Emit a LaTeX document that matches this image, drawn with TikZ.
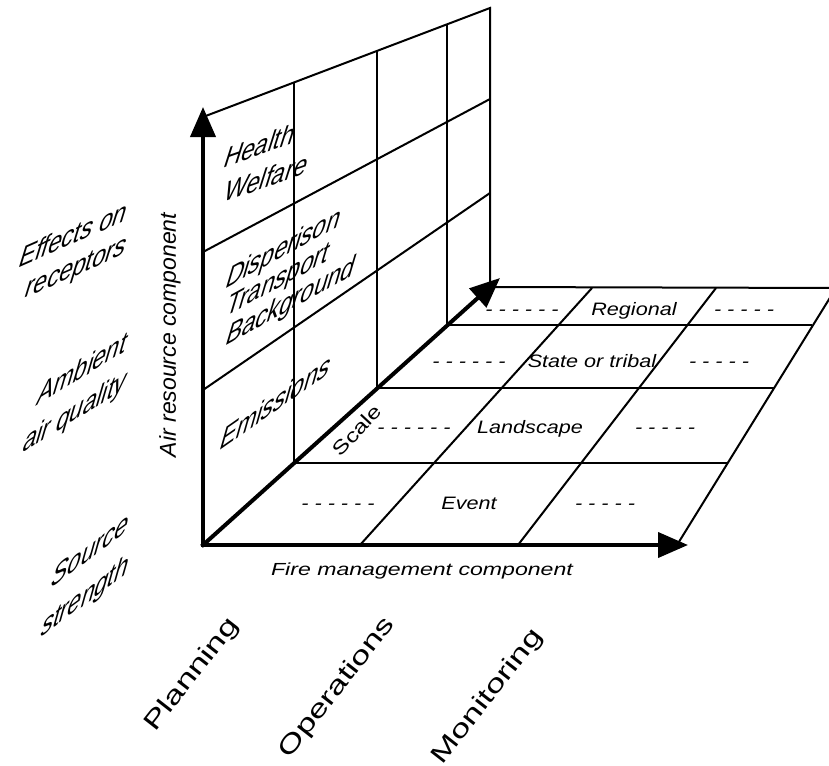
\documentclass[tikz,border=0pt]{standalone}
\usepackage{fontspec}
\setmainfont{Liberation Sans}
\newfontfamily\oblq[FakeSlant=0.4]{Liberation Sans}
\usetikzlibrary{arrows.meta}
\tikzset{axis/.style={line width=4pt, line cap=rect, -{Triangle[length=30pt,width=25pt]}}}
\tikzset{grid/.style={line width=2pt}}
\tikzset{wall/.style 2 args={inner sep=0pt, align=left, anchor=west, yslant=#1, yscale=1.12, font=\oblq\fontsize{24}{#2}\selectfont}}
\tikzset{side/.style 2 args={inner sep=0pt, align=right, anchor=east, yslant=#1, yscale=1.12, font=\oblq\fontsize{24}{#2}\selectfont}}
\tikzset{floor/.style={inner sep=0pt, anchor=base, xscale=1.2, font=\itshape\fontsize{18}{20}\selectfont}}
\tikzset{phase/.style={inner sep=0pt, rotate=52, xscale=1.4, font=\fontsize{25}{28}\selectfont}}

\begin{document}
\begin{tikzpicture}[x=1pt, y=-1pt]
        \useasboundingbox (0,0) rectangle (829,765);
        \coordinate (orig) at (203,545);
        \coordinate (ytip) at (203,107);
        \coordinate (xtip) at (688,545);
        \coordinate (ztip) at (500,278);
        \coordinate (wtl) at (203,117);
        \coordinate (wtr) at (490,8);
        \coordinate (wbr) at (490,287);

        \draw[grid] (wtl) -- (wtr) -- (wbr);
        \draw[grid] (203,252) -- (490,99);
        \draw[grid] (203,390) -- (490,193);
        \foreach \x/\yt/\yb in {294/82/463, 377/51/388, 447/24/325}
            \draw[grid] (\x,\yt) -- (\x,\yb);

        \draw[grid] (294,463) -- (728,463);
        \draw[grid] (377,388) -- (774,388);
        \draw[grid] (447,325) -- (812,325);
        \draw[grid] (wbr) -- (836,288);
        \draw[grid] (360,545) -- (592,288);
        \draw[grid] (518,545) -- (716,288);
        \draw[grid] (677,545) -- (836,288);

        \draw[axis] (orig) -- (ytip);
        \draw[axis] (orig) -- (xtip);
        \draw[axis] (orig) -- (ztip);

        \node[wall={0.35}{31}] (hlth) at (222,176) {Health\\Welfare};
        \node[wall={0.55}{25.5}] (disp) at (224,311) {Disperison\\Transport\\Background};
        \node[wall={0.7}{28}] (emis) at (218,442) {Emissions};

        \node[side={0.44}{29.5}] (effc) at (124,231) {Effects on\\receptors};
        \node[side={0.62}{34}] (ambn) at (124,364) {Ambient\\air quality};
        \node[side={0.74}{37}] (srce) at (126,547) {Source\\strength};

        \node[floor] (rgl) at (522,315) {- - - - - -};
        \node[floor] (rgn) at (634,315) {Regional};
        \node[floor] (rgr) at (744,315) {- - - - -};
        \node[floor] (stl) at (469,367) {- - - - - -};
        \node[floor] (stt) at (592,367) {State or tribal};
        \node[floor] (str) at (719,367) {- - - - -};
        \node[floor] (lsl) at (414,433) {- - - - - -};
        \node[floor] (lnd) at (530,433) {Landscape};
        \node[floor] (lsr) at (665,433) {- - - - -};
        \node[floor] (evl) at (338,509) {- - - - - -};
        \node[floor] (evt) at (469,509) {Event};
        \node[floor] (evr) at (605,509) {- - - - -};

        \node[inner sep=0pt, rotate=47, xscale=1.3, font=\fontsize{19}{20}\selectfont] (scl) at (357,430) {Scale};
        \node[inner sep=0pt, rotate=90, font=\itshape\fontsize{23}{25}\selectfont] (airc) at (170,335) {Air resource component};
        \node[inner sep=0pt, anchor=base, xscale=1.32, font=\itshape\fontsize{17.5}{20}\selectfont] (firc) at (422,575) {Fire management component};

        \node[phase] (plan) at (192,675) {Planning};
        \node[phase] (oper) at (337,688) {Operations};
        \node[phase] (mont) at (488,697) {Monitoring};
\end{tikzpicture}
\end{document}
